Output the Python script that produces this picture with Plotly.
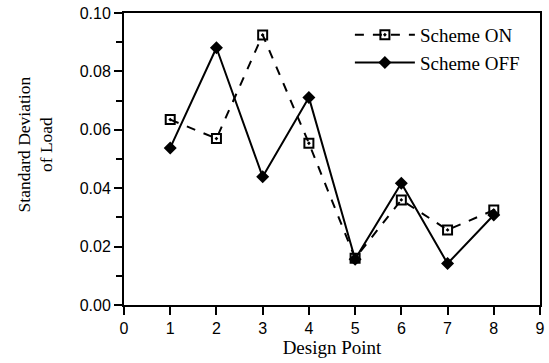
import plotly.graph_objects as go

design_points = [1, 2, 3, 4, 5, 6, 7, 8]
scheme_on = [0.0635, 0.0570, 0.0925, 0.0554, 0.0160, 0.0360, 0.0257, 0.0325]
scheme_off = [0.0538, 0.0881, 0.0439, 0.0711, 0.0157, 0.0417, 0.0142, 0.0308]

serif = "Liberation Serif, Times New Roman, serif"
sans = "Liberation Sans, Arial, Helvetica, sans-serif"

fig = go.Figure()
fig.add_trace(go.Scatter(
    x=design_points, y=scheme_on, name="Scheme ON", mode="lines+markers",
    line=dict(color="black", width=2, dash="dash"),
    marker=dict(symbol="square-open-dot", size=9, color="black", line=dict(width=2, color="black")),
))
fig.add_trace(go.Scatter(
    x=design_points, y=scheme_off, name="Scheme OFF", mode="lines+markers",
    line=dict(color="black", width=2),
    marker=dict(symbol="diamond", size=10, color="black"),
))

fig.update_layout(
    width=549, height=363,
    margin=dict(l=124, r=4, t=13, b=58),
    paper_bgcolor="white", plot_bgcolor="white",
    showlegend=True,
    legend=dict(x=0.543, y=0.99, xanchor="left", yanchor="top",
                font=dict(family=serif, size=19, color="black"),
                bgcolor="rgba(0,0,0,0)", tracegroupgap=0, itemwidth=60),
    font=dict(family=sans, color="black"),
    annotations=[dict(
        text="Standard Deviation<br>of Load", textangle=-90,
        xref="paper", yref="paper", x=-0.214, y=0.55,
        xanchor="center", yanchor="middle", showarrow=False,
        font=dict(family=serif, size=17.5, color="black"),
    )],
)
fig.update_xaxes(
    range=[0, 9], dtick=1, tick0=0,
    showline=True, linecolor="black", linewidth=2, mirror=True,
    ticks="outside", ticklen=8, tickwidth=2, tickcolor="black",
    tickfont=dict(family=sans, size=16, color="black"),
    showgrid=False, zeroline=False,
    title=dict(text="Design Point", font=dict(family=serif, size=19, color="black"), standoff=4),
)
fig.update_yaxes(
    range=[0, 0.10], dtick=0.02, tick0=0, tickformat=".2f",
    showline=True, linecolor="black", linewidth=2, mirror=True,
    ticks="outside", ticklen=8, tickwidth=2, tickcolor="black",
    tickfont=dict(family=sans, size=16, color="black"),
    minor=dict(dtick=0.01, ticks="outside", ticklen=6, tickwidth=2, tickcolor="black", showgrid=False),
    showgrid=False, zeroline=False,
)

fig.write_html("out.html")
